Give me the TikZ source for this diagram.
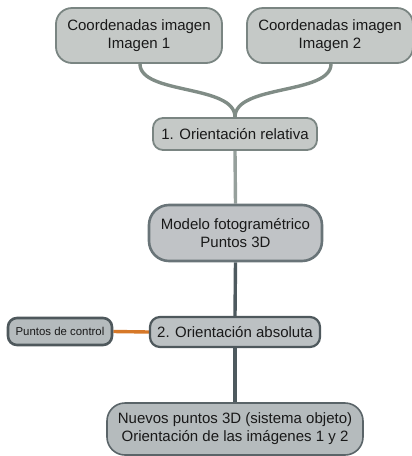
\documentclass[tikz,border=0pt]{standalone}
\usepackage{fontspec}
\setmainfont{Liberation Sans}
\definecolor{fillA}{RGB}{197,201,199}
\definecolor{drawA}{RGB}{122,133,130}
\definecolor{fillB}{RGB}{192,195,198}
\definecolor{drawB}{RGB}{105,116,120}
\definecolor{fillC}{RGB}{188,193,195}
\definecolor{drawC}{RGB}{78,88,92}
\definecolor{fillD}{RGB}{181,187,189}
\definecolor{drawD}{RGB}{90,100,104}
\definecolor{lineA}{RGB}{128,140,134}
\definecolor{lineB}{RGB}{150,160,156}
\definecolor{lineC}{RGB}{78,90,95}
\definecolor{orangeline}{RGB}{214,120,40}
\pgfdeclarelayer{bg}
\pgfsetlayers{bg,main}
\tikzset{
  box/.style={rounded corners=#1, inner sep=0pt, align=center, font=\fontsize{15}{18}\selectfont, text=black!90},
  topbox/.style={box=16pt, fill=fillA, draw=drawA, line width=1.8pt, minimum width=166pt, minimum height=55pt},
  relbox/.style={box=10pt, fill=fillA, draw=drawA, line width=1.8pt, minimum width=164pt, minimum height=32pt},
  modbox/.style={box=20pt, fill=fillB, draw=drawB, line width=2.6pt, minimum width=173pt, minimum height=56pt},
  absbox/.style={box=10pt, fill=fillC, draw=drawC, line width=2.2pt, minimum width=170pt, minimum height=30pt},
  pcbox/.style={box=9pt, fill=fillD, draw=drawC, line width=2.6pt, minimum width=104pt, minimum height=27pt, font=\fontsize{11.4}{13}\selectfont},
  botbox/.style={box=18pt, fill=fillD, draw=drawD, line width=1.6pt, minimum width=256pt, minimum height=52pt},
  conn/.style={line width=3.4pt}
}
\begin{document}
\begin{tikzpicture}[x=1pt,y=-1pt]
\useasboundingbox (0,0) rectangle (412,456);
\node[topbox] (c1) at (139,35.5) {Coordenadas imagen\\Imagen 1};
\node[topbox] (c2) at (330,35.5) {Coordenadas imagen\\Imagen 2};
\node[relbox] (rel) at (235,134) {1. Orientación relativa};
\node[modbox] (mod) at (235.5,233) {Modelo fotogramétrico\\Puntos 3D};
\node[absbox] (abs) at (235,332) {2. Orientación absoluta};
\node[pcbox] (pc) at (60,331.5) {Puntos de control};
\node[botbox] (bot) at (235,429) {Nuevos puntos 3D (sistema objeto)\\Orientación de las imágenes 1 y 2};
\coordinate (join) at (rel.north);
\coordinate (c1b) at ([xshift=1pt]c1.south);
\coordinate (c2b) at ([xshift=1pt]c2.south);
\begin{pgfonlayer}{bg}
\draw[conn, lineA] (c1b) .. controls ([yshift=-31pt]c1b) and ([yshift=33pt]join) .. (join);
\draw[conn, lineA] (c2b) .. controls ([yshift=-31pt]c2b) and ([yshift=33pt]join) .. (join);
\draw[conn, lineB] (rel.south) -- (mod.north);
\draw[conn, lineC] (mod.south) -- (abs.north);
\draw[conn, lineC] (abs.south) -- (bot.north);
\draw[conn, orangeline] (pc.east) -- (abs.west);
\end{pgfonlayer}
\end{tikzpicture}
\end{document}
